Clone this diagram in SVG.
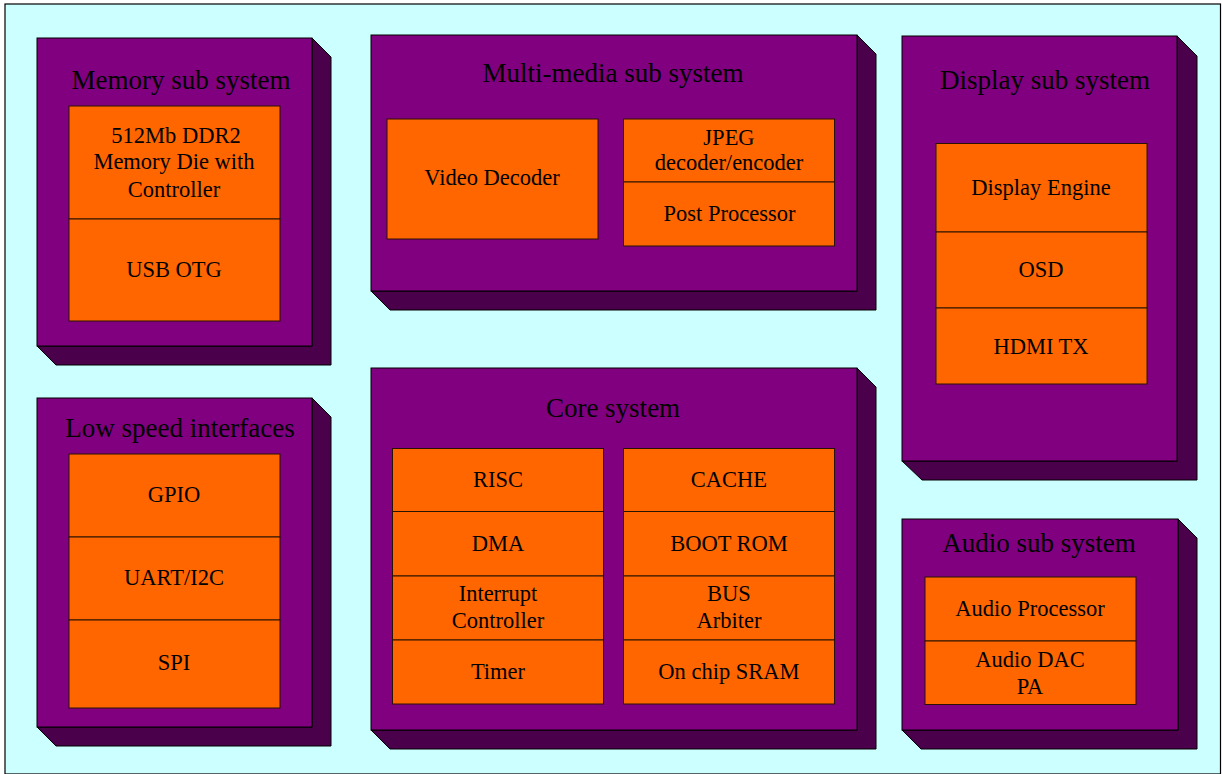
<svg xmlns="http://www.w3.org/2000/svg" width="1222" height="774" viewBox="0 0 1222 774">
<defs>
<style>
.front{fill:#800080;stroke:#000;stroke-width:1}
.side{fill:#4b004b;stroke:#000;stroke-width:1}
.blk{fill:#ff6600;stroke:#2a1200;stroke-width:1}
.title{font-family:"Liberation Serif","Times New Roman",serif;font-size:27px;fill:#000;text-anchor:middle}
.lbl{font-family:"Liberation Serif","Times New Roman",serif;font-size:22.5px;fill:#000;text-anchor:middle}
</style>
</defs>
<rect x="5" y="4" width="1215.5" height="770" fill="#ccffff" stroke="#000" stroke-width="1.2"/>

<g id="memory">
<polygon class="side" points="312,38 331,57 331,365 56,365 37,346 312,346"/>
<rect class="front" x="37" y="38" width="275" height="308"/>
<text class="title" x="181" y="89">Memory sub system</text>
<rect class="blk" x="69" y="106" width="211" height="113"/>
<rect class="blk" x="69" y="219" width="211" height="102"/>
<text class="lbl" x="176" y="143">512Mb DDR2</text>
<text class="lbl" x="174" y="169">Memory Die with</text>
<text class="lbl" x="174" y="196.5">Controller</text>
<text class="lbl" x="174" y="277">USB OTG</text>
</g>

<g id="lowspeed">
<polygon class="side" points="312,398 331,417 331,746 56,746 37,727 312,727"/>
<rect class="front" x="37" y="398" width="275" height="329"/>
<text class="title" x="180" y="437">Low speed interfaces</text>
<rect class="blk" x="69" y="454" width="211" height="83"/>
<rect class="blk" x="69" y="537" width="211" height="83"/>
<rect class="blk" x="69" y="620" width="211" height="88"/>
<text class="lbl" x="174" y="502">GPIO</text>
<text class="lbl" x="174" y="585">UART/I2C</text>
<text class="lbl" x="174" y="670">SPI</text>
</g>

<g id="multimedia">
<polygon class="side" points="857,35 876,54 876,310 390,310 371,291 857,291"/>
<rect class="front" x="371" y="35" width="486" height="256"/>
<text class="title" x="613" y="81.5">Multi-media sub system</text>
<rect class="blk" x="387" y="119" width="211" height="120"/>
<text class="lbl" x="492" y="185">Video Decoder</text>
<rect class="blk" x="623.5" y="119" width="211" height="63"/>
<rect class="blk" x="623.5" y="182" width="211" height="64"/>
<text class="lbl" x="729" y="144.5">JPEG</text>
<text class="lbl" x="729" y="170">decoder/encoder</text>
<text class="lbl" x="729.5" y="220.5">Post Processor</text>
</g>

<g id="core">
<polygon class="side" points="857,368 876,387 876,749 390,749 371,730 857,730"/>
<rect class="front" x="371" y="368" width="486" height="362"/>
<text class="title" x="613" y="416.5">Core system</text>
<rect class="blk" x="392.5" y="448.5" width="211" height="63"/>
<rect class="blk" x="392.5" y="511.5" width="211" height="64.5"/>
<rect class="blk" x="392.5" y="576" width="211" height="64"/>
<rect class="blk" x="392.5" y="640" width="211" height="64"/>
<rect class="blk" x="623.5" y="448.5" width="211" height="63"/>
<rect class="blk" x="623.5" y="511.5" width="211" height="64.5"/>
<rect class="blk" x="623.5" y="576" width="211" height="64"/>
<rect class="blk" x="623.5" y="640" width="211" height="64"/>
<text class="lbl" x="498" y="487">RISC</text>
<text class="lbl" x="498" y="550.5">DMA</text>
<text class="lbl" x="498" y="600.5">Interrupt</text>
<text class="lbl" x="498" y="628">Controller</text>
<text class="lbl" x="498" y="679">Timer</text>
<text class="lbl" x="729" y="487">CACHE</text>
<text class="lbl" x="729" y="550.5">BOOT ROM</text>
<text class="lbl" x="729" y="600.5">BUS</text>
<text class="lbl" x="729" y="628">Arbiter</text>
<text class="lbl" x="729" y="679">On chip SRAM</text>
</g>

<g id="display">
<polygon class="side" points="1177,36 1197,56 1197,480 922,480 902,461 1177,461"/>
<rect class="front" x="902" y="36" width="275" height="425"/>
<text class="title" x="1045" y="89">Display sub system</text>
<rect class="blk" x="936" y="143.5" width="211" height="88.5"/>
<rect class="blk" x="936" y="232" width="211" height="76"/>
<rect class="blk" x="936" y="308" width="211" height="76"/>
<text class="lbl" x="1041" y="195">Display Engine</text>
<text class="lbl" x="1041" y="277">OSD</text>
<text class="lbl" x="1041" y="354">HDMI TX</text>
</g>

<g id="audio">
<polygon class="side" points="1178,519 1197,538 1197,749 921,749 902,730 1178,730"/>
<rect class="front" x="902" y="519" width="276" height="211"/>
<text class="title" x="1039" y="552">Audio sub system</text>
<rect class="blk" x="925" y="577" width="211" height="64"/>
<rect class="blk" x="925" y="641" width="211" height="63.5"/>
<text class="lbl" x="1030" y="615.5">Audio Processor</text>
<text class="lbl" x="1030" y="666.5">Audio DAC</text>
<text class="lbl" x="1030" y="694">PA</text>
</g>

<g id="connectors"></g>
</svg>
